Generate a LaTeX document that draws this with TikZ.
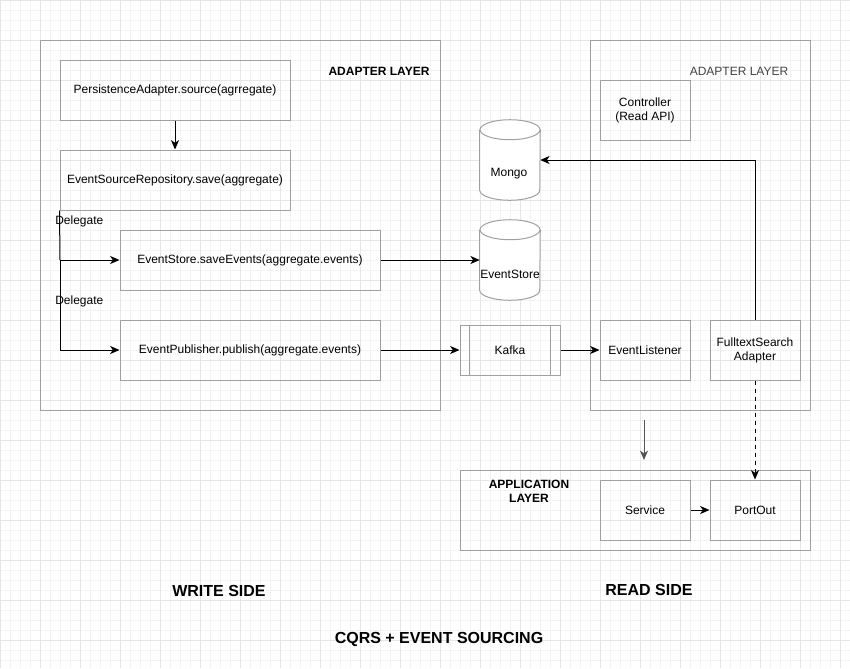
\documentclass[tikz,border=0pt]{standalone}
\usepackage{fontspec}
\setmainfont{Liberation Sans}
\usetikzlibrary{arrows.meta}
\definecolor{gridminor}{HTML}{F3F3F3}
\definecolor{gridmajor}{HTML}{E6E6E6}
\definecolor{boxline}{HTML}{A0A0A0}
\definecolor{darkgray}{HTML}{555555}
\tikzset{
  box/.style={draw=boxline, line width=0.75pt, inner sep=0pt, font=\fontsize{9}{10.5}\selectfont, align=center, text=black},
  lbl/.style={inner sep=0pt, font=\fontsize{9}{10.5}\selectfont, align=center},
  title/.style={inner sep=0pt, font=\fontsize{9}{10.5}\selectfont\bfseries, align=center},
  big/.style={inner sep=0pt, font=\fontsize{12}{14}\selectfont\bfseries},
  conn/.style={draw=black, line width=0.75pt, -{Stealth[length=7pt,width=6pt,inset=2pt]}},
  ghost/.style={inner sep=0pt, minimum width=60*0.75pt, minimum height=80*0.75pt},
}
\begin{document}
\begin{tikzpicture}[x=0.75pt,y=-0.75pt]
\useasboundingbox (0,0) rectangle (850,668);
\fill[white] (0,0) rectangle (850,668);
% grid
\foreach \i in {0,10,...,850} \draw[gridminor,line width=0.5pt] (\i,0) -- (\i,668);
\foreach \j in {0,10,...,660} \draw[gridminor,line width=0.5pt] (0,\j) -- (850,\j);
\foreach \i in {0,40,...,840} \draw[gridmajor,line width=0.5pt] (\i,0) -- (\i,668);
\foreach \j in {0,40,...,640} \draw[gridmajor,line width=0.5pt] (0,\j) -- (850,\j);

% write side adapter layer
\node[box, minimum width=400*0.75pt, minimum height=370*0.75pt] (wlayer) at (240,225) {};
\node[title] (wlayertxt) at (379,71) {ADAPTER LAYER};
\node[box, minimum width=230*0.75pt, minimum height=60*0.75pt] (persist) at (175,90) {PersistenceAdapter.source(agrregate)};
\node[box, minimum width=230*0.75pt, minimum height=60*0.75pt] (repo) at (175,180) {EventSourceRepository.save(aggregate)};
\node[box, minimum width=260*0.75pt, minimum height=60*0.75pt] (store) at (250,260) {EventStore.saveEvents(aggregate.events)};
\node[box, minimum width=260*0.75pt, minimum height=60*0.75pt] (pub) at (250,350) {EventPublisher.publish(aggregate.events)};
\node[lbl, anchor=west] (del1) at (55,221) {Delegate};
\node[lbl, anchor=west] (del2) at (55,301) {Delegate};
\coordinate (split) at (60,260);

\draw[conn] (persist) -- (repo);
\draw[line width=0.75pt] (repo.south west) -- (split);
\draw[conn] (split) -- (store);
\draw[conn] (split) |- (pub);

% cylinders
\node[ghost] (mongo) at (510,160) {};
\node[ghost] (estore) at (510,260) {};
\foreach \c in {mongo,estore}{
  \draw[boxline, line width=0.75pt, fill=white] ([yshift=-10*0.75pt]\c.north west) -- ([yshift=10*0.75pt]\c.south west)
     arc[start angle=180, end angle=360, x radius=30*0.75pt, y radius=10*0.75pt]
     -- ([yshift=-10*0.75pt]\c.north east);
  \draw[boxline, line width=0.75pt, fill=white] ([yshift=-10*0.75pt]\c.north) ellipse[x radius=30*0.75pt, y radius=10*0.75pt];
}
\node[lbl] (mongotxt) at (509,174) {Mongo};
\node[lbl] (estoretxt) at (510,274) {EventStore};

% kafka
\node[box, minimum width=100*0.75pt, minimum height=50*0.75pt] (kafka) at (510,350) {Kafka};
\draw[boxline, line width=0.75pt] ([xshift=10*0.75pt]kafka.north west) -- ([xshift=10*0.75pt]kafka.south west);
\draw[boxline, line width=0.75pt] ([xshift=-10*0.75pt]kafka.north east) -- ([xshift=-10*0.75pt]kafka.south east);

\draw[conn] (store) -- (estore.west |- store);
\draw[conn] (pub) -- (kafka);

% read side adapter layer
\node[box, minimum width=220*0.75pt, minimum height=370*0.75pt] (rlayer) at (700,225) {};
\node[lbl, text=darkgray!80!black] (rlayertxt) at (739,71) {ADAPTER LAYER};
\node[box, minimum width=90*0.75pt, minimum height=60*0.75pt] (ctrl) at (645,110) {Controller\\(Read API)};
\node[box, minimum width=90*0.75pt, minimum height=60*0.75pt] (listener) at (645,350) {EventListener};
\node[box, minimum width=90*0.75pt, minimum height=60*0.75pt] (fts) at (755,350) {FulltextSearch\\Adapter};

\draw[line width=0.75pt, -{Stealth[length=7pt,width=6pt,inset=2pt]}, draw=black] (kafka) -- (listener);
\draw[conn] (fts.north) |- (mongo.east |- 0,160);

% application layer
\node[box, minimum width=350*0.75pt, minimum height=80*0.75pt] (app) at (635,510) {};
\node[title] (apptxt) at (529,491) {APPLICATION\\LAYER};
\node[box, minimum width=90*0.75pt, minimum height=60*0.75pt] (service) at (645,510) {Service};
\node[box, minimum width=90*0.75pt, minimum height=60*0.75pt] (portout) at (755,510) {PortOut};
\draw[conn] (service) -- (portout);
\draw[conn, dashed] (fts) -- (portout);
\coordinate (dtop) at (644,420);
\coordinate (dbot) at (644,460);
\draw[conn, draw=darkgray] (dtop) -- (dbot);

% titles
\node[big] (write) at (219,591) {WRITE SIDE};
\node[big] (read) at (649,590) {READ SIDE};
\node[big] (cqrs) at (439,639) {CQRS + EVENT SOURCING};
\end{tikzpicture}
\end{document}
